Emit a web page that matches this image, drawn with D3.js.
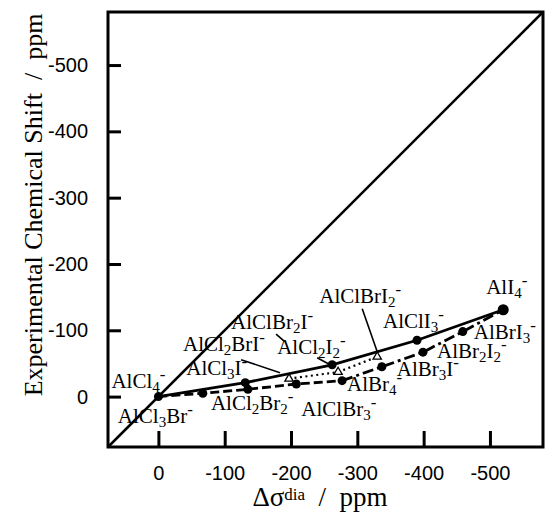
<!DOCTYPE html>
<html>
<head>
<meta charset="utf-8">
<script src="https://cdn.jsdelivr.net/npm/d3@7"></script>
<style>
  body { margin: 0; background: #fff; }
  text { fill: #000; white-space: pre; }
</style>
</head>
<body>
<svg id="chart" width="545" height="522"></svg>
<script>
"use strict";

// --- data (ppm) -----------------------------------------------------------
const species = ["AlCl4-", "AlCl3Br-", "AlCl2Br2-", "AlClBr3-", "AlBr4-",
                 "AlBr3I-", "AlBr2I2-", "AlBrI3-", "AlI4-",
                 "AlCl3I-", "AlCl2I2-", "AlClI3-",
                 "AlCl2BrI-", "AlClBr2I-", "AlClBrI2-"];
const deltaSigmaDia = [0, -67, -135, -208, -277, -337, -399, -459, -520, -131, -262, -390, -197, -271, -330];
const expShift      = [0, -5, -11, -19, -24, -45, -67, -98, -131, -21, -48, -85, -27, -37, -60];

const openSpecies = ["AlCl2BrI-", "AlClBr2I-", "AlClBrI2-"];

const lineClI   = ["AlCl4-", "AlCl3I-", "AlCl2I2-", "AlClI3-", "AlI4-"];
const lineClBr  = ["AlCl4-", "AlCl3Br-", "AlCl2Br2-", "AlClBr3-", "AlBr4-"];
const lineBrI   = ["AlBr4-", "AlBr3I-", "AlBr2I2-", "AlBrI3-", "AlI4-"];
const lineMixed = ["AlCl2BrI-", "AlClBr2I-", "AlClBrI2-"];

const xTicks = [0, -100, -200, -300, -400, -500];
const yTicks = [0, -100, -200, -300, -400, -500];

// label placement relative to the point, px: [dx, dy, pointer]
const labelPos = {
  "AlCl4-":    [-47, -9],
  "AlCl3Br-":  [-85, 30],
  "AlCl2Br2-": [-37, 21],
  "AlClBr3-":  [5, 32],
  "AlBr4-":    [5, 10],
  "AlBr3I-":   [15, 9],
  "AlBr2I2-":  [14, 6],
  "AlBrI3-":   [11, 7],
  "AlI4-":     [-17, -16],
  "AlCl3I-":   [-59, -8],
  "AlCl2I2-":  [-55, -11, [-15, -7, -2, 0]],
  "AlClI3-":   [-34, -12],
  "AlCl2BrI-": [-106, -28, [-48, -19, -9, -6]],
  "AlClBr2I-": [-107, -43, [-62, -38, -54, -31]],
  "AlClBrI2-": [-58, -54, [-15, -48, 0, -5]]
};

const svg = d3.select("#chart");
const plotLeft = 108, plotRight = 543, plotTop = 12, plotBottom = 447;

const x = d3.scaleLinear().domain([76, -580]).range([plotLeft, plotRight]);
const y = d3.scaleLinear().domain([76, -580]).range([plotBottom, plotTop]);

const pts = {};
species.forEach((s, i) => { pts[s] = {name: s, x: deltaSigmaDia[i], y: expShift[i]}; });

// frame
svg.append("rect")
   .attr("x", plotLeft).attr("y", plotTop)
   .attr("width", plotRight - plotLeft).attr("height", plotBottom - plotTop)
   .attr("fill", "none").attr("stroke", "#000").attr("stroke-width", 3);

// axes
const yAxis = d3.axisLeft(y).tickValues(yTicks).tickSize(-13).tickPadding(20)
                .tickFormat(d => d === 0 ? "0" : "-" + Math.abs(d));
const xAxis = d3.axisBottom(x).tickValues(xTicks).tickSize(-16).tickPadding(19)
                .tickFormat(d => d === 0 ? "0" : "-" + Math.abs(d));

const gy = svg.append("g").attr("transform", `translate(${plotLeft},0)`).call(yAxis);
const gx = svg.append("g").attr("transform", `translate(0,${plotBottom})`).call(xAxis);
[gx, gy].forEach(g => {
  g.select(".domain").remove();
  g.selectAll(".tick line").attr("stroke", "#000").attr("stroke-width", 3);
  g.selectAll(".tick text")
   .attr("font-family", "'Liberation Sans', sans-serif")
   .attr("font-size", 20).attr("fill", "#000");
});

// y = x reference line
svg.append("line")
   .attr("x1", x(76)).attr("y1", y(76))
   .attr("x2", x(-580)).attr("y2", y(-580))
   .attr("stroke", "#000").attr("stroke-width", 2.5);

// series lines
const line = d3.line().x(d => x(d.x)).y(d => y(d.y));
const drawSeries = function(list, dash, width){
  svg.append("path")
     .datum(list.map(n => pts[n]))
     .attr("d", line)
     .attr("fill", "none")
     .attr("stroke", "#000")
     .attr("stroke-width", width)
     .attr("stroke-dasharray", dash);
};
drawSeries(lineClI, null, 2.8);
drawSeries(lineClBr, "9,4", 2.8);
drawSeries(lineBrI, "11,4,3,4", 2.8);
drawSeries(lineMixed, "2,3.5", 2.2);

// markers
const filled = species.filter(s => openSpecies.indexOf(s) < 0);
svg.append("g").selectAll("circle")
   .data(filled.map(n => pts[n]))
   .enter().append("circle")
   .attr("cx", d => x(d.x)).attr("cy", d => y(d.y))
   .attr("r", d => d.name === "AlI4-" ? 5.5 : 4.5)
   .attr("fill", "#000");

const tri = d3.symbol().type(d3.symbolTriangle).size(30);
svg.append("g").selectAll("path")
   .data(openSpecies.map(n => pts[n]))
   .enter().append("path")
   .attr("d", tri)
   .attr("transform", d => `translate(${x(d.x)},${y(d.y)})`)
   .attr("fill", "#fff").attr("stroke", "#000").attr("stroke-width", 1.3);

// labels with sub/superscripts
const richLabel = function(sel, name){
  const parts = name.match(/[A-Za-z]+|\d+|-/g);
  let shift = 0;
  parts.forEach(p => {
    const t = sel.append("tspan").text(p);
    let target = 0, size = 21;
    if (/\d/.test(p)) { target = 4; size = 15; }
    else if (p === "-") { target = -8; size = 17; }
    t.attr("font-size", size);
    if (target !== shift) t.attr("dy", target - shift);
    shift = target;
  });
};

species.forEach(s => {
  const p = pts[s], pos = labelPos[s];
  const px = x(p.x), py = y(p.y);
  if (pos[2]) {
    svg.append("line")
       .attr("x1", px + pos[2][0]).attr("y1", py + pos[2][1])
       .attr("x2", px + pos[2][2]).attr("y2", py + pos[2][3])
       .attr("stroke", "#000").attr("stroke-width", 1.6);
  }
  const t = svg.append("text")
     .attr("x", px + pos[0]).attr("y", py + pos[1])
     .attr("font-family", "'Liberation Serif', serif");
  richLabel(t, s);
});

// axis titles
svg.append("text")
   .attr("transform", "translate(42,205) rotate(-90)")
   .attr("text-anchor", "middle")
   .attr("font-family", "'Liberation Serif', serif")
   .attr("font-size", 26)
   .text("Experimental Chemical Shift  /  ppm");

const xt = svg.append("text")
   .attr("x", 320).attr("y", 506)
   .attr("text-anchor", "middle")
   .attr("font-family", "'Liberation Serif', serif")
   .attr("font-size", 27);
xt.append("tspan").text("Δσ");
xt.append("tspan").attr("font-size", 17).attr("dy", -6).text("dia");
xt.append("tspan").attr("dy", 6).text("  /  ppm");
</script>
</body>
</html>
